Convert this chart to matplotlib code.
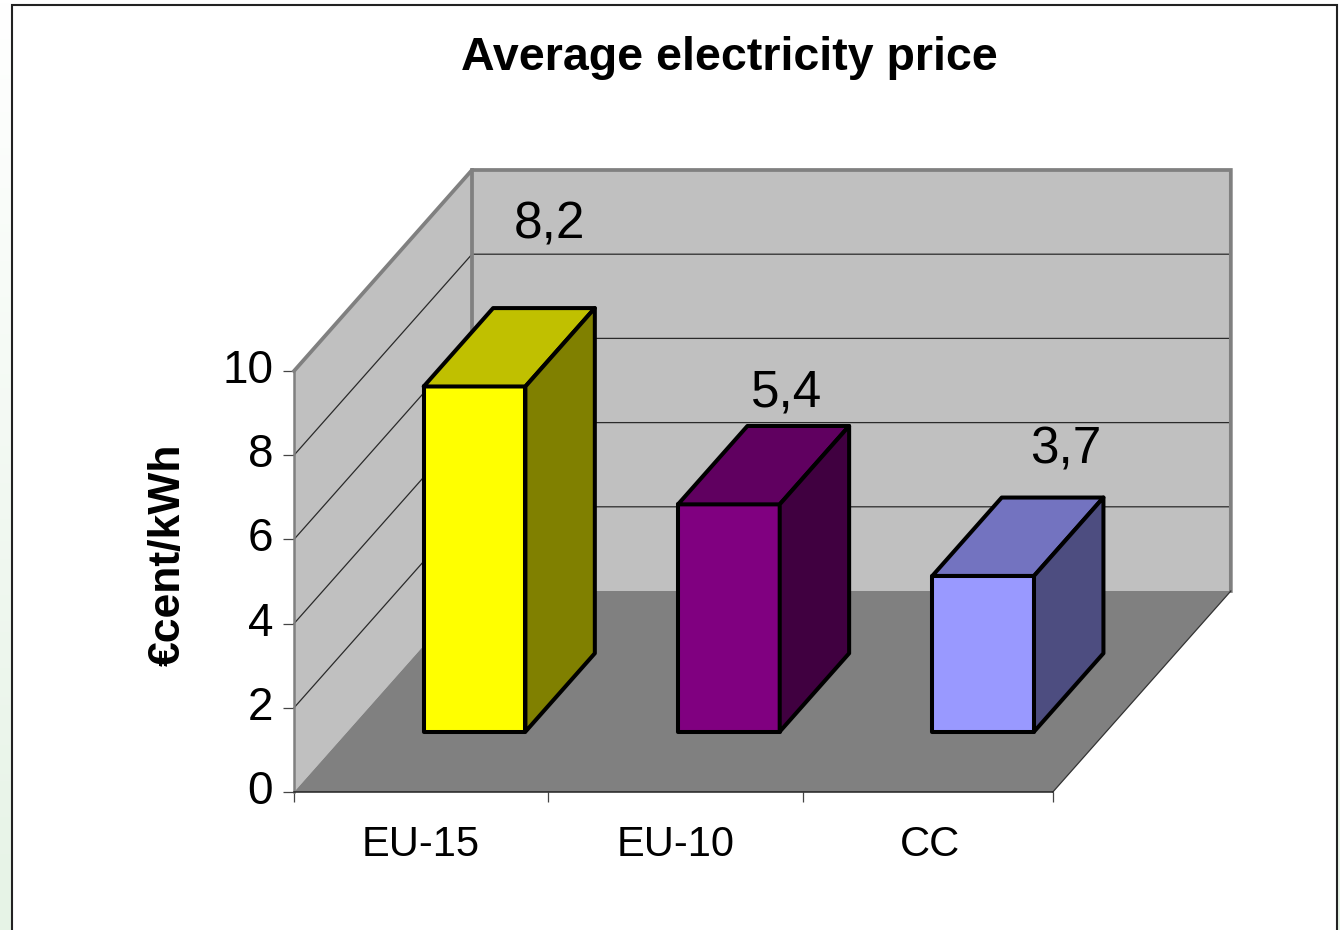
import numpy as np
import matplotlib
matplotlib.use("Agg")
import matplotlib.pyplot as plt
from matplotlib.patches import Polygon, Rectangle

plt.rcParams['font.family'] = ['Liberation Sans', 'DejaVu Sans']

# Chart data
categories = ['EU-15', 'EU-10', 'CC']
prices = [8.2, 5.4, 3.7]
price_labels = ['8,2', '5,4', '3,7']
value_ticks = [0, 2, 4, 6, 8, 10]
front_colors = ['#ffff00', '#800080', '#9999ff']
top_colors = ['#c0c000', '#600060', '#7373c0']
side_colors = ['#808000', '#400040', '#4d4d80']
label_offsets_px = [(75, -161), (58, -111), (83, -126)]

W, H = 1340, 930
X0, PX_PER_CAT = 294, 254.3
Y0, PX_PER_VAL = 792, 42.1
DEPTH_X, DEPTH_Y = 178 / PX_PER_CAT, 201 / PX_PER_VAL
BAR_LEFT, BAR_RIGHT = 0.30, 0.70
BAR_NEAR, BAR_FAR = 0.30, 0.69
VMAX, NCAT = 10, len(categories)
FLOOR_END = 2.984


def proj(x, d, v):
    """Oblique projection of (category position, depth 0-1, value) to the plane."""
    return (x + DEPTH_X * d, v + DEPTH_Y * d)


fig = plt.figure(figsize=(W / 100, H / 100), dpi=100, facecolor='white')

# Pale green backdrop that fades in toward the bottom of the slide
bg = fig.add_axes([0, 0, 1, 1], zorder=0)
fade = np.linspace(0, 1, 256)[:, None, None]
white = np.array([1.0, 1.0, 1.0])
green = np.array([0xe6, 0xf3, 0xe6]) / 255
bg.imshow(white + (green - white) * fade, aspect='auto', extent=(0, 1, 0, 1))
bg.axis('off')

# White chart panel with its dark frame
panel = Rectangle((12 / W, -0.02), (1337 - 12) / W, 1.02 - 5.5 / H, transform=fig.transFigure,
                  facecolor='white', edgecolor='#222222', linewidth=1.5, zorder=1)
bg.add_artist(panel)

ax = fig.add_axes([0, 0, 1, 1], zorder=2)
ax.patch.set_alpha(0)
ax.set_xlim(-X0 / PX_PER_CAT, (W - X0) / PX_PER_CAT)
ax.set_ylim((Y0 - H) / PX_PER_VAL, Y0 / PX_PER_VAL)

# Walls and floor
ax.add_patch(Polygon([proj(0, 0, 0), proj(0, 0, VMAX), proj(0, 1, VMAX), proj(0, 1, 0)],
                     facecolor='#c0c0c0', edgecolor='none', zorder=1))
ax.add_patch(Polygon([proj(0, 1, 0), proj(0, 1, VMAX), proj(FLOOR_END, 1, VMAX), proj(FLOOR_END, 1, 0)],
                     facecolor='#c0c0c0', edgecolor='none', zorder=1))
ax.add_patch(Polygon([proj(0, 0, 0), proj(FLOOR_END, 0, 0), proj(FLOOR_END, 1, 0), proj(0, 1, 0)],
                     facecolor='#808080', edgecolor='none', zorder=2))

# Gridlines across both walls
for v in value_ticks[1:-1]:
    pts = np.array([proj(0, 0, v), proj(0, 1, v), proj(FLOOR_END, 1, v)])
    ax.plot(pts[:, 0], pts[:, 1], color='#2a2a2a', lw=0.9, zorder=3)

# Wall outline
outline = np.array([proj(0, 0, VMAX), proj(0, 1, VMAX), proj(FLOOR_END, 1, VMAX), proj(FLOOR_END, 1, 0)])
ax.plot(outline[:, 0], outline[:, 1], color='#808080', lw=2.7, zorder=4, solid_joinstyle='miter')
inner = np.array([proj(0, 1, VMAX), proj(0, 1, 0)])
ax.plot(inner[:, 0], inner[:, 1], color='#808080', lw=2.7, zorder=4)

# Right edge of the floor
edge = np.array([proj(FLOOR_END, 0, 0), proj(FLOOR_END, 1, 0)])
ax.plot(edge[:, 0], edge[:, 1], color='#333333', lw=0.9, zorder=4)

# Bars, each as front, top and side faces
for i, val in enumerate(prices):
    xl, xr = i + BAR_LEFT, i + BAR_RIGHT
    faces = [
        ([proj(xl, BAR_NEAR, 0), proj(xr, BAR_NEAR, 0), proj(xr, BAR_NEAR, val), proj(xl, BAR_NEAR, val)], front_colors[i]),
        ([proj(xl, BAR_NEAR, val), proj(xr, BAR_NEAR, val), proj(xr, BAR_FAR, val), proj(xl, BAR_FAR, val)], top_colors[i]),
        ([proj(xr, BAR_NEAR, 0), proj(xr, BAR_FAR, 0), proj(xr, BAR_FAR, val), proj(xr, BAR_NEAR, val)], side_colors[i]),
    ]
    for pts, col in faces:
        ax.add_patch(Polygon(pts, facecolor=col, edgecolor='black', linewidth=2.9,
                             joinstyle='round', zorder=5))
    anchor = proj((xl + xr) / 2, BAR_NEAR, val)
    dx, dy = label_offsets_px[i]
    ax.annotate(price_labels[i], xy=anchor, xytext=(dx * 0.72, -dy * 0.72),
                textcoords='offset points', ha='center', va='center',
                fontsize=37, color='black', zorder=6)

# Value and category axes
for name in ('top', 'right'):
    ax.spines[name].set_visible(False)
ax.spines['left'].set_position(('data', 0))
ax.spines['left'].set_bounds(0, VMAX)
ax.spines['left'].set_color('#808080')
ax.spines['left'].set_linewidth(1.8)
ax.spines['left'].set_zorder(4)
ax.spines['bottom'].set_position(('data', 0))
ax.spines['bottom'].set_bounds(0, FLOOR_END)
ax.spines['bottom'].set_color('#222222')
ax.spines['bottom'].set_linewidth(1.1)
ax.spines['bottom'].set_zorder(4)

ax.set_yticks(value_ticks)
ax.set_yticklabels([str(v) for v in value_ticks], va='center')
ax.tick_params(axis='y', length=8, width=0.9, color='#444444', pad=7, labelsize=33)
ax.set_xticks([0, 1, 2, FLOOR_END])
ax.set_xticklabels([''] * (NCAT + 1))
ax.tick_params(axis='x', which='major', length=7.5, width=0.9, color='#444444')
ax.set_xticks(np.arange(NCAT) + 0.5, minor=True)
ax.set_xticklabels(categories, minor=True)
ax.tick_params(axis='x', which='minor', length=0, pad=24, labelsize=30)

fig.text(729 / W, 1 - 58 / H, 'Average electricity price', ha='center', va='center',
         fontsize=33.5, fontweight='bold', zorder=5)
fig.text(168 / W, 1 - 555 / H, '€cent/kWh', rotation=90, ha='center', va='center',
         fontsize=32, fontweight='bold', zorder=5)

fig.savefig('out.png', dpi=100)
